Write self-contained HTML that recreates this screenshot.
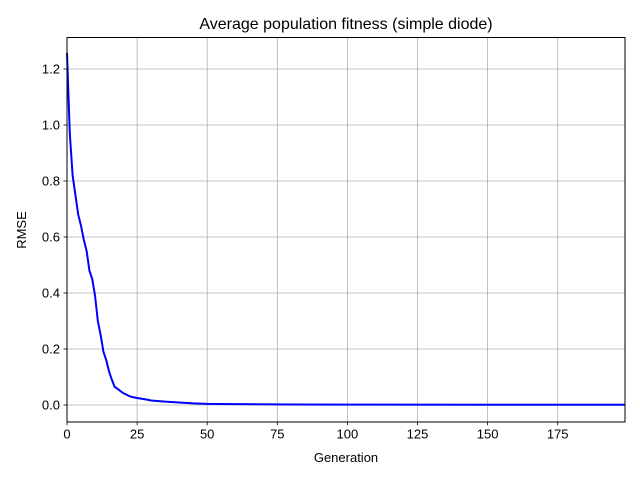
<!DOCTYPE html>
<html><head><meta charset="utf-8"><style>
body{margin:0;background:#fff;}
svg{display:block;font-family:"Liberation Sans","DejaVu Sans",sans-serif;}
</style></head><body>
<svg id="chart" width="640" height="480">
<rect width="640" height="480" fill="#fff"/>
<text x="346" y="29" font-size="16" text-anchor="middle">Average population fitness (simple diode)</text>
<g id="grid"></g>
<g id="ticks"></g>
<path id="line" fill="none" stroke="#0000ff" stroke-width="2"/>
<rect x="67" y="37.5" width="558" height="384.5" fill="none" stroke="#000" stroke-width="1"/>
<text x="346" y="462" font-size="13" text-anchor="middle">Generation</text>
<text x="0" y="0" font-size="13" text-anchor="middle" transform="translate(26,230) rotate(-90)">RMSE</text>
</svg>
<script>
const generations=[0,1,2,3,4,5,6,7,8,9,10,11,12,13,14,15,16,17,18,19,20,21,22,23,25,28,30,35,40,45,50,60,80,100,150,199];
const rmse=[1.257,0.97,0.82,0.75,0.68,0.64,0.59,0.55,0.48,0.45,0.39,0.30,0.25,0.19,0.16,0.12,0.09,0.065,0.058,0.05,0.043,0.038,0.033,0.029,0.025,0.02,0.016,0.012,0.009,0.006,0.004,0.003,0.002,0.0015,0.001,0.001];
const xTicks=[0,25,50,75,100,125,150,175];
const yTicks=[0.0,0.2,0.4,0.6,0.8,1.0,1.2];
const X0=67,X1=625,Y0=421.7,Y1=37.5,xMin=0,xMax=199,yMin=-0.0596,yMax=1.3125;
function sx(v){return X0+(v-xMin)/(xMax-xMin)*(X1-X0);}
function sy(v){return Y0-(v-yMin)/(yMax-yMin)*(Y0-Y1);}
const NS="http://www.w3.org/2000/svg";
const grid=document.getElementById('grid'),ticks=document.getElementById('ticks');
function mk(tag,attrs,parent){const e=document.createElementNS(NS,tag);for(const k in attrs)e.setAttribute(k,attrs[k]);parent.appendChild(e);return e;}
xTicks.forEach(t=>{const x=sx(t);
 const g=mk('line',{x1:x,x2:x,y1:Y1,y2:Y0,stroke:'#b0b0b0','stroke-width':0.8},grid);
 
 
 mk('line',{x1:x,x2:x,y1:Y0,y2:Y0+3.5,stroke:'#000','stroke-width':0.8},ticks);
 const l=mk('text',{x:x,y:Y0+17,'font-size':13,'text-anchor':'middle'},ticks);l.textContent=t;
 
 
});
yTicks.forEach(t=>{const y=sy(t);
 const g=mk('line',{x1:X0,x2:X1,y1:y,y2:y,stroke:'#b0b0b0','stroke-width':0.8},grid);
 
 
 mk('line',{x1:X0-3.5,x2:X0,y1:y,y2:y,stroke:'#000','stroke-width':0.8},ticks);
 const l=mk('text',{x:X0-7,y:y+4.5,'font-size':13,'text-anchor':'end'},ticks);l.textContent=t.toFixed(1);
 
 
});
document.getElementById('line').setAttribute('d',generations.map((g,i)=>(i?'L':'M')+sx(g).toFixed(2)+','+sy(rmse[i]).toFixed(2)).join(''));
</script>
</body></html>
